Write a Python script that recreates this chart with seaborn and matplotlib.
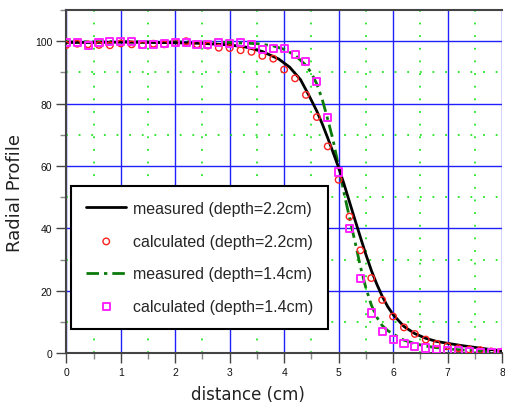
import matplotlib
matplotlib.use("Agg")
import matplotlib.pyplot as plt
import seaborn as sns
import pandas as pd
from matplotlib.ticker import MultipleLocator

# ---- data ----
meas22_x = [0, 0.5, 1.0, 1.5, 2.0, 2.5, 3.0, 3.3, 3.6, 3.9, 4.1, 4.3, 4.45, 4.6, 4.7, 4.8, 4.9,
            5.0, 5.1, 5.2, 5.3, 5.4, 5.5, 5.6, 5.7, 5.8, 5.9, 6.0, 6.2, 6.4, 6.6, 6.8, 7.0,
            7.25, 7.5, 7.75, 8.0]
meas22_y = [99.6, 99.6, 99.7, 99.6, 99.5, 99.3, 98.8, 98.1, 96.7, 94.3, 91.7, 87.7, 82.8, 77.6,
            73.5, 69.0, 64.3, 59.5, 54.2, 48.5, 42.8, 37.2, 31.7, 26.6, 22.2, 18.3, 15.0, 12.4,
            8.6, 6.3, 4.8, 3.8, 3.2, 2.5, 1.9, 1.3, 0.8]

meas14_x = [0, 0.5, 1.0, 1.5, 2.0, 2.5, 3.0, 3.5, 3.8, 4.0, 4.2, 4.4, 4.5, 4.6, 4.7, 4.8, 4.9,
            5.0, 5.1, 5.2, 5.3, 5.4, 5.5, 5.6, 5.7, 5.8, 5.9, 6.0, 6.2, 6.4, 6.6, 6.8, 7.0,
            7.5, 8.0]
meas14_y = [99.8, 99.8, 99.9, 99.8, 99.8, 99.7, 99.6, 99.2, 98.5, 97.4, 95.5, 92.3, 89.8, 86.3,
            81.3, 75.0, 68.2, 59.8, 51.3, 43.5, 35.8, 27.8, 21.0, 15.5, 11.6, 8.9, 7.3, 6.2,
            4.2, 3.1, 2.3, 1.8, 1.4, 0.8, 0.5]

calc_x = [0.0, 0.2, 0.4, 0.6, 0.8, 1.0, 1.2, 1.4, 1.6, 1.8, 2.0, 2.2, 2.4, 2.6, 2.8, 3.0, 3.2,
          3.4, 3.6, 3.8, 4.0, 4.2, 4.4, 4.6, 4.8, 5.0, 5.2, 5.4, 5.6, 5.8, 6.0, 6.2, 6.4, 6.6,
          6.8, 7.0, 7.2, 7.4, 7.6, 7.8, 8.0]
calc22_y = [98.8, 99.2, 99.0, 98.8, 98.7, 99.3, 99.0, 98.8, 99.2, 99.0, 99.5, 100.0, 99.0, 98.6,
            97.9, 97.8, 97.1, 96.6, 95.3, 94.4, 90.9, 88.1, 82.8, 75.7, 66.3, 55.6, 43.8, 33.0,
            24.1, 17.1, 11.8, 8.3, 6.2, 4.4, 3.0, 2.3, 1.6, 1.2, 1.0, 0.6, 0.5]
calc14_y = [99.5, 99.5, 98.7, 99.5, 100.0, 100.0, 99.8, 98.9, 98.9, 99.3, 99.5, 99.5, 98.8, 98.9,
            99.7, 99.3, 99.7, 98.8, 97.3, 97.8, 97.6, 95.6, 93.4, 87.1, 75.5, 58.1, 40.1, 24.1,
            12.9, 7.1, 4.4, 3.1, 2.1, 1.7, 1.2, 0.8, 0.8, 0.5, 0.4, 0.2, 0.3]

labels = ["measured (depth=2.2cm)", "calculated (depth=2.2cm)",
          "measured (depth=1.4cm)", "calculated (depth=1.4cm)"]
x_ticks = [0, 1, 2, 3, 4, 5, 6, 7, 8]
y_ticks = [0, 20, 40, 60, 80, 100]

# ---- style ----
sns.set_style("ticks")
plt.rcParams['font.family'] = ['Liberation Sans', 'DejaVu Sans']

W, H = 506, 406
x_left, x_right, y_top, y_bot = 66.3, 502.0, 11.0, 354.3
aw, ah = x_right - x_left, y_bot - y_top
fig = plt.figure(figsize=(W / 100, H / 100), dpi=100)
ax = fig.add_axes([x_left / W, 1 - y_bot / H, aw / W, ah / H])
ax.set_facecolor("white")

df22 = pd.DataFrame({"x": meas22_x, "y": meas22_y})
df14 = pd.DataFrame({"x": meas14_x, "y": meas14_y})
dc22 = pd.DataFrame({"x": calc_x, "y": calc22_y})
dc14 = pd.DataFrame({"x": calc_x, "y": calc14_y})

sns.lineplot(data=df14, x="x", y="y", ax=ax, color="#0a7a0a", lw=2.0,
             linestyle=(0, (4.5, 1.8, 1.2, 1.8)), label=labels[2], zorder=3)
sns.lineplot(data=df22, x="x", y="y", ax=ax, color="black", lw=2.0, label=labels[0], zorder=4)
sns.scatterplot(data=dc22, x="x", y="y", ax=ax, marker="o", s=22, facecolor="none",
                edgecolor="#ff2020", linewidth=1.0, label=labels[1], zorder=5)
sns.scatterplot(data=dc14, x="x", y="y", ax=ax, marker="s", s=26, facecolor="none",
                edgecolor="#ff22ff", linewidth=1.4, label=labels[3], zorder=6)

ax.set_xlim(0, 8)
ax.set_ylim(0, 110)
ax.set_xticks(x_ticks)
ax.set_yticks(y_ticks)
ax.xaxis.set_minor_locator(MultipleLocator(0.5))
ax.yaxis.set_minor_locator(MultipleLocator(10))

ax.grid(which="major", color="#2020ff", lw=1.0, ls="-", zorder=0)
ax.grid(which="minor", color="#22e622", lw=1.3, ls=(0, (1, 6)), zorder=0)
ax.set_axisbelow(True)

for s in ["left", "bottom", "top"]:
    ax.spines[s].set_color("#444444")
    ax.spines[s].set_linewidth(1.5)
ax.spines["right"].set_visible(False)

ax.tick_params(which="major", direction="out", length=7, width=1.0, color="#444444",
               labelsize=7.5, labelcolor="#111111", pad=3)
ax.tick_params(which="minor", direction="out", length=4, width=1.0, color="#888888")

ax.set_xlabel("distance (cm)", fontsize=12, family=["DejaVu Sans"], color="#222222")
ax.set_ylabel("Radial Profile", fontsize=13, family=["DejaVu Sans"], color="#222222")
ax.xaxis.set_label_coords((248 - x_left) / aw, -(386 - y_bot) / ah)
ax.yaxis.set_label_coords(-(x_left - 24) / aw, (y_bot - 193) / ah)

h, l = ax.get_legend_handles_labels()
hd = dict(zip(l, h))
leg = ax.legend([hd[t] for t in labels], labels, loc="lower left",
                bbox_to_anchor=(0.011, 0.071), borderaxespad=0, fontsize=11.5,
                frameon=True, fancybox=False, edgecolor="black", framealpha=1,
                borderpad=0.95, labelspacing=1.1, handlelength=2.5, handletextpad=0.4)
leg.get_frame().set_linewidth(1.5)
leg.set_zorder(10)

fig.savefig("out.png", dpi=100)
